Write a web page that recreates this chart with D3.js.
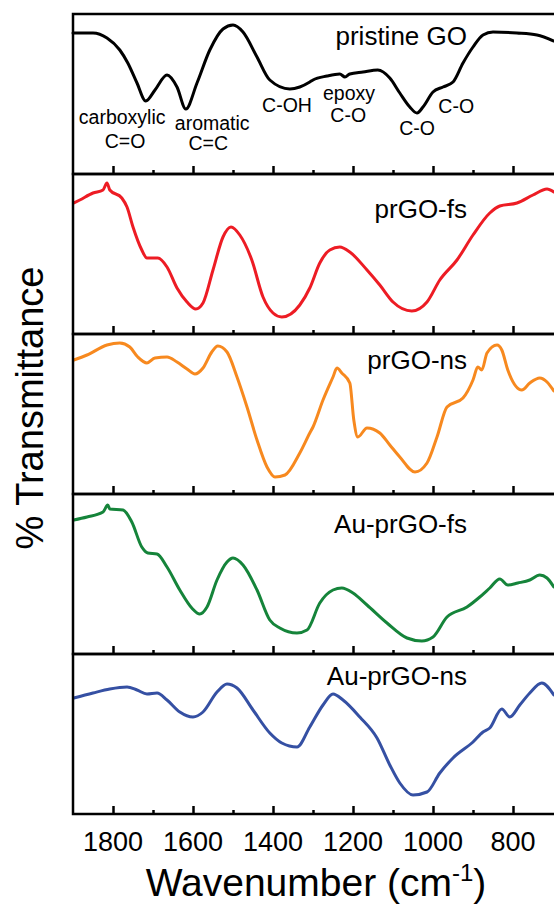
<!DOCTYPE html>
<meta charset="utf-8">
<style>
  body { margin: 0; background: #fff; }
  text { font-family: "Liberation Sans", Arial, sans-serif; fill: #000; }
  .frame { fill: none; stroke: #000; stroke-width: 2.5; }
  .axis line { stroke: #000; stroke-width: 2.5; }
  .axis path { display: none; }
  .spectrum { fill: none; stroke-width: 3; stroke-linejoin: round; stroke-linecap: round; }
</style>
<body>
<script src="https://d3js.org/d3.v7.min.js"></script>
<script>
// wavenumbers (cm-1) and transmittance (arb. units, 0-160 per panel)
const goWn = [1900,1850,1815,1783,1763,1740,1718,1695,1665,1640,1618,1590,1558,1525,1500,1475,1440,1408,1358,1333,1308,1300,1265,1233,1220,1208,1175,1138,1108,1083,1058,1040,1025,1000,975,950,925,900,875,850,790,740,698];
const goT  = [141,141,136,124,111,91,73,84,99,87,65,91,124,145,149,142,117,94,85,87,92,94,98,100,97,100,102,104,96,81,67,61,67,82,87,92,111,127,139,142,141,139,133];

const fsWn = [1898,1883,1850,1825,1815,1808,1778,1765,1750,1728,1715,1688,1665,1640,1615,1593,1575,1550,1525,1505,1483,1453,1425,1400,1378,1333,1308,1283,1258,1233,1208,1165,1133,1100,1053,1015,983,940,900,858,833,790,750,715,698];
const fsT  = [131,134,141,144,151,144,136,127,107,84,76,76,67,46,32,25,31,64,97,107,99,74,37,21,17,29,46,71,84,87,82,64,49,32,23,32,54,74,99,121,128,131,139,145,142];

const nsWn = [1898,1865,1815,1783,1758,1738,1715,1695,1665,1640,1615,1595,1575,1553,1538,1515,1490,1465,1440,1415,1395,1370,1333,1308,1300,1275,1250,1240,1228,1208,1198,1188,1165,1133,1108,1083,1045,1015,990,965,925,900,888,878,865,840,828,813,778,758,733,715,698];
const nsT  = [134,139,149,151,147,137,131,136,137,132,125,120,126,142,148,142,117,87,54,27,17,19,41,61,67,94,117,126,121,111,74,57,66,61,49,37,22,31,57,87,96,114,127,124,141,149,144,124,104,111,116,112,103];

const aufsWn = [1898,1865,1825,1813,1808,1775,1753,1728,1713,1690,1665,1633,1603,1583,1565,1540,1515,1500,1475,1440,1408,1383,1340,1315,1283,1250,1228,1200,1165,1115,1065,1028,1000,965,915,883,858,833,813,788,758,733,715,698];
const aufsT  = [134,137,142,149,145,144,132,107,101,100,87,64,46,40,47,74,92,96,89,64,34,26,21,24,51,64,66,61,49,31,16,13,17,37,47,57,66,75,69,71,74,79,76,67];

const aunsWn = [1898,1850,1808,1765,1740,1715,1690,1665,1633,1600,1575,1540,1515,1490,1450,1408,1378,1340,1308,1275,1250,1225,1183,1140,1108,1083,1050,1015,983,950,900,875,858,828,808,783,758,728,698];
const aunsT  = [116,121,125,127,124,120,121,114,102,97,102,122,130,126,104,81,71,67,87,109,120,114,97,76,49,31,19,22,41,56,72,82,86,105,97,109,121,131,119];

const sampleNames = ["pristine GO", "prGO-fs", "prGO-ns", "Au-prGO-fs", "Au-prGO-ns"];
const majorTicks = [1800, 1600, 1400, 1200, 1000, 800];
const minorTicks = [1700, 1500, 1300, 1100, 900];

const colors = ["#000000", "#ed1c24", "#f7891f", "#15843a", "#3550a3"];
const series = [[goWn, goT], [fsWn, fsT], [nsWn, nsT], [aufsWn, aufsT], [aunsWn, aunsT]];

// band assignments in the GO panel: text, wavenumber, height
const bands = [
    ["carboxylic", 1777, 50], ["C=O", 1770, 26],
    ["aromatic", 1552, 44], ["C=C", 1562, 24],
    ["C-OH", 1365, 62],
    ["epoxy", 1210, 74], ["C-O", 1212, 52],
    ["C-O", 1040, 39],
    ["C-O", 942, 61]
];
const labelY = [129, 116, 125, 121, 129];

const width = 554, height = 907;
const panelTop = 14, panelH = 160, left = 73, right = 553;

const svg = d3.select("body").append("svg")
    .attr("width", width)
    .attr("height", height);

const x = d3.scaleLinear().domain([1900, 700]).range([left, right]);

series.forEach(function(s, i) {
    let top = panelTop + i * panelH;
    let y = d3.scaleLinear().domain([0, 160]).range([top + panelH, top]);
    let g = svg.append("g");

    let data = s[0].map(function(w, k) { return {w: w, t: s[1][k]}; });
    let line = d3.line()
        .x(function(d) { return x(d.w); })
        .y(function(d) { return y(d.t); })
        .curve(d3.curveMonotoneX);

    g.append("path")
        .datum(data)
        .attr("class", "spectrum")
        .attr("stroke", colors[i])
        .attr("d", line);

    g.append("g")
        .attr("class", "axis")
        .attr("transform", "translate(0," + (top + panelH) + ")")
        .call(d3.axisBottom(x).tickValues(majorTicks).tickSize(-8).tickFormat(""));
    g.append("g")
        .attr("class", "axis")
        .attr("transform", "translate(0," + (top + panelH) + ")")
        .call(d3.axisBottom(x).tickValues(minorTicks).tickSize(-4).tickFormat(""));

    g.append("rect")
        .attr("class", "frame")
        .attr("x", left)
        .attr("y", top)
        .attr("width", right - left + 6)
        .attr("height", panelH);

    g.append("text")
        .attr("x", x(915))
        .attr("y", y(labelY[i]))
        .attr("text-anchor", "end")
        .style("font-size", "26px")
        .text(sampleNames[i]);

    if (i == 0) {
        g.selectAll(".band")
            .data(bands)
            .enter().append("text")
            .attr("class", "band")
            .attr("x", function(d) { return x(d[1]); })
            .attr("y", function(d) { return y(d[2]); })
            .attr("text-anchor", "middle")
            .style("font-size", "19.5px")
            .text(function(d) { return d[0]; });
    }
});

let bottom = panelTop + 5 * panelH;
svg.selectAll(".xlabel")
    .data(majorTicks)
    .enter().append("text")
    .attr("class", "xlabel")
    .attr("x", function(d) { return x(d); })
    .attr("y", bottom + 37)
    .attr("text-anchor", "middle")
    .style("font-size", "27px")
    .text(function(d) { return d; });

let xt = svg.append("text")
    .attr("x", 316)
    .attr("y", 896)
    .attr("text-anchor", "middle")
    .style("font-size", "39px");
xt.append("tspan").text("Wavenumber (cm");
xt.append("tspan").attr("dy", -15).style("font-size", "24px").text("-1");
xt.append("tspan").attr("dy", 15).text(")");

svg.append("text")
    .attr("transform", "translate(43,408) rotate(-90)")
    .attr("text-anchor", "middle")
    .style("font-size", "38px")
    .text("% Transmittance");
</script>
</body>
